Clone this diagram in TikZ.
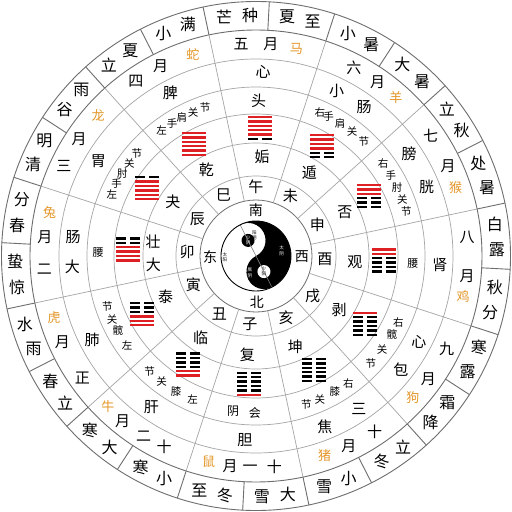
\documentclass[tikz,border=0pt]{standalone}
\usepackage{fontspec}
\newfontfamily\cjk{Noto Sans CJK SC}
\definecolor{hexred}{RGB}{222,32,36}
\definecolor{animalc}{RGB}{228,150,40}
\definecolor{ringgray}{RGB}{165,165,165}
\definecolor{darkline}{RGB}{110,110,110}
\tikzset{
  solarch/.style={font=\cjk\fontsize{16}{16}\selectfont, inner sep=0pt},
  monthch/.style={font=\cjk\fontsize{15}{15}\selectfont, inner sep=0pt},
  animalch/.style={font=\cjk\fontsize{13}{13}\selectfont, text=animalc, inner sep=0pt},
  organch/.style={font=\cjk\fontsize{15}{15}\selectfont, inner sep=0pt},
  jointch/.style={font=\cjk\fontsize{10.5}{10.5}\selectfont, inner sep=0pt},
  midch/.style={font=\cjk\fontsize{12}{12}\selectfont, inner sep=0pt},
  tinych/.style={font=\cjk\fontsize{4.5}{4.5}\selectfont, inner sep=0pt},
  ringline/.style={ringgray, line width=0.7pt},
  outerline/.style={darkline, line width=0.9pt}
}
\begin{document}
\begin{tikzpicture}[x=1pt,y=1pt]
\useasboundingbox (-256,-256) rectangle (256,256);
\fill[white] (-256,-256) rectangle (256,256);

% rings
\foreach \r in {80,113,142,169,197} \draw[ringline] (0,0) circle (\r);
\draw[outerline] (0,0) circle (226);
\draw[outerline] (0,0) circle (254.5);
\draw[darkline, line width=0.8pt] (0,0) circle (56);

% radial lines
\foreach \k in {0,...,11} \draw[ringline] (12+30*\k:56) -- (12+30*\k:226);
\foreach \k in {0,...,23} \draw[outerline] (-3+15*\k:226) -- (-3+15*\k:254.5);

% yin-yang
\begin{scope}[rotate=27]
  \fill[white] (0,0) circle (35);
  \fill[black] (0,35) arc[start angle=90, end angle=-90, radius=35]
     arc[start angle=-90, end angle=-270, radius=17.5]
     arc[start angle=-90, end angle=90, radius=17.5] -- cycle;
  \fill[black] (0,17.5) circle (6.5);
  \fill[white] (0,-17.5) circle (6.5);
  \draw[gray, line width=0.6pt] (0,35) -- (0,-35);
  \draw[black, line width=0.9pt] (0,0) circle (35);
\end{scope}
\node[tinych] (ty1) at (-31,1.5) {太};
\node[tinych] (ty2) at (-31,-4) {阳};
\node[tinych, text=white] (tn1) at (25.7,8) {太};
\node[tinych, text=white] (tn2) at (25.7,2.5) {阴};
\node[tinych] (ym1) at (-1.5,23.5) {阳};
\node[tinych] (ym2) at (-1.5,18) {明};
\node[tinych, text=white] (sy1) at (-7.9,18.2) {少};
\node[tinych, text=white] (sy2) at (-7.9,13) {阴};
\node[tinych] (sg1) at (7.9,-13) {少};
\node[tinych] (sg2) at (7.9,-18.2) {阳};
\node[tinych, text=white] (jy1) at (-6,-14) {厥};
\node[tinych, text=white] (jy2) at (-6,-19.5) {阴};

% directions
\foreach \a/\c in {90/南, 181/东, -1/西, -89/北}
  \node[organch, font=\cjk\fontsize{14}{14}\selectfont] at (\a:46) {\c};

% branches
\foreach \a/\c in {90/午, 60/未, 27/申, -3/酉, -35/戌, -64/亥, -95/子, -122/丑, -155/寅, 177/卯, 148/辰, 118/巳}
  \node[organch] at (\a:69) {\c};

% hexagram names
\foreach \a/\c in {86.5/姤, 57.4/遁, 26/否, -3.5/观, -33/剥, -66.5/坤, -95/复, -124/临, -156/泰, 147/夬, 120/乾}
  \node[organch] at (\a:99) {\c};
\node[organch] (dz1) at (172:104) {壮};
\node[organch] (dz2) at (185:103) {大};

% hexagrams
\foreach \a/\p in {-93/{1,0,0,0,0,0}, -122/{1,1,0,0,0,0}, -153/{1,1,1,0,0,0}, 177/{1,1,1,1,0,0}, 148/{1,1,1,1,1,0}, 119/{1,1,1,1,1,1}, 88/{0,1,1,1,1,1}, 59/{0,0,1,1,1,1}, 28/{0,0,0,1,1,1}, -2/{0,0,0,0,1,1}, -32/{0,0,0,0,0,1}, -63/{0,0,0,0,0,0}}{
  \begin{scope}[shift={(\a:128)}]
    \foreach \b [count=\i] in \p {
      \pgfmathsetmacro\yy{(\i-3.5)*4.4}
      \ifnum\b=1
        \fill[hexred] (-12,\yy-1.2) rectangle (12,\yy+1.2);
      \else
        \fill[black] (-12,\yy-1.2) rectangle (-2,\yy+1.2);
        \fill[black] (2,\yy-1.2) rectangle (12,\yy+1.2);
      \fi
    }
  \end{scope}
}

% organ ring 1 (inner)
\node[organch] (tou) at (89:155) {头};
\node[midch, font=\cjk\fontsize{11}{11}\selectfont] (yao1) at (-2.6:157) {腰};
\node[midch, font=\cjk\fontsize{11}{11}\selectfont] (yao2) at (178.6:158) {腰};
\node[midch] (hy1) at (-98.4:157) {阴};
\node[midch] (hy2) at (-90.4:157) {会};
\foreach \a/\c in {66/右, 62.4/手, 57.6/肩, 52.3/关, 46.6/节,
                   36/右, 30.7/手, 25.9/肘, 21.1/关, 16.6/节,
                   -24.9/右, -30/髋, -36.6/关, -43/节,
                   -54/右, -59.8/膝, -66/关, -71.3/节,
                   -113.8/左, -120.6/膝, -127/关, -132.7/节,
                   -145.2/左, -151.7/髋, -156.3/关, -161.3/节,
                   156.7/左, 152.6/手, 148.3/肘, 143.7/关, 139.3/节,
                   127/左, 122.3/手, 118.2/肩, 113.6/关, 108.9/节}
  \node[jointch] at (\a:157) {\c};

% organ ring 2
\foreach \a/\c in {87.8/心, 64/小, 54/肠, 33.6/膀, 22/胱, -2.8/肾, -27.7/心, -38/包, -56/三, -68/焦, -93.5/胆, -124.7/肝, -153/肺, 183.4/大, 174/肠, 149/胃, 117.7/脾}
  \node[organch] at (\a:184) {\c};

% month ring
\foreach \a/\c in {94/五, 86/月, 62.5/六, 55/月, 34.5/七, 25/月, 5/八, -5.4/月, -26/九, -35.6/月, -56/十, -64/月, -85/十, -91.6/一, -97/月, -115.7/十, -122/二, -129/月, -145/正, -156/月, 183.5/二, 175/月, 155/三, 146.5/月, 124.5/四, 116.7/月}
  \node[monthch] at (\a:212) {\c};
\foreach \a/\c in {79/马, 48.5/羊, 19/猴, -11/鸡, -42/狗, -71/猪, -103/鼠, -134.6/牛, -163/虎, 168/兔, 138.4/龙, 107.4/蛇}
  \node[animalch] at (\a:211) {\c};

% solar terms
\foreach \a/\p/\q in {94.5/芒/种, 79.5/夏/至, 64.5/小/暑, 49.5/大/暑, 34.5/立/秋, 19.5/处/暑, 4.5/白/露, -10.5/秋/分, -25.5/寒/露, -40.5/霜/降, -55.5/立/冬, -70.5/小/雪, -85.5/大/雪, -100.5/冬/至, -115.5/小/寒, -130.5/大/寒, -145.5/立/春, -160.5/雨/水, -175.5/惊/蛰, 169.5/春/分, 154.5/清/明, 139.5/谷/雨, 124.5/立/夏, 109.5/小/满}{
  \node[solarch] at (\a+3.1:241) {\p};
  \node[solarch] at (\a-3.1:241) {\q};
}
\end{tikzpicture}
\end{document}
